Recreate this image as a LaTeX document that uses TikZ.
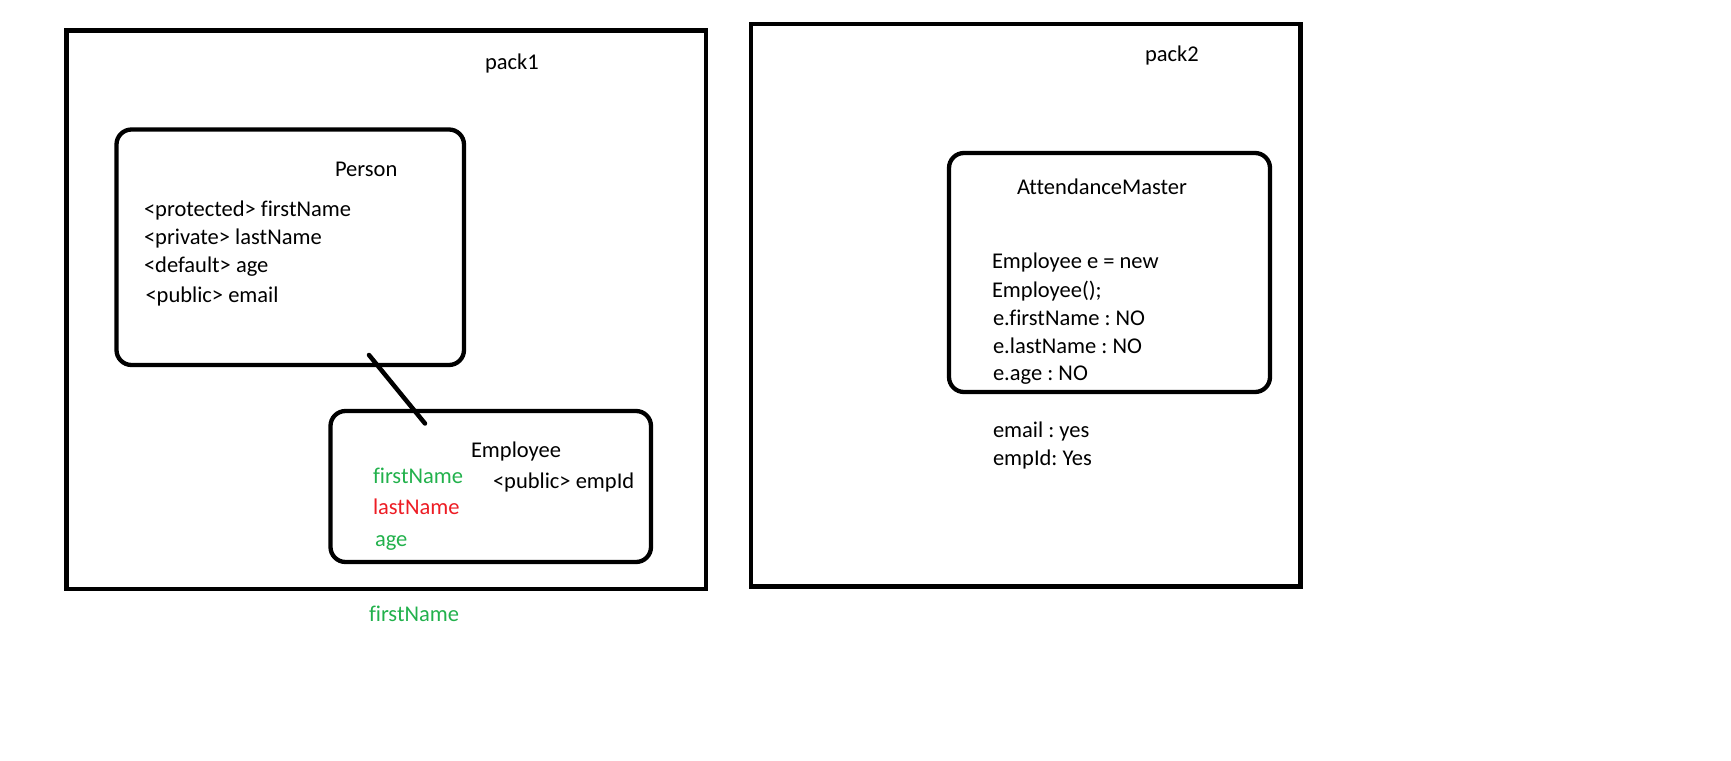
\documentclass[tikz,border=0pt]{standalone}
\usepackage{fontspec}
\setmainfont{Carlito}[RawFeature={-liga,-clig,-dlig}]
\frenchspacing
\definecolor{okgreen}{RGB}{34,177,76}
\definecolor{nored}{RGB}{237,28,36}
\tikzset{
  pack/.style={draw=black, line width=4.7pt, inner sep=0pt, outer sep=0pt},
  cls/.style={draw=black, line width=4.3pt, rounded corners=15pt, inner sep=0pt, outer sep=0pt},
  txt/.style={anchor=base west, inner sep=0pt, outer sep=0pt, font=\fontsize{22.5}{28}\selectfont\frenchspacing, text=black},
  link/.style={draw=black, line width=4.5pt, line cap=round},
}
\begin{document}
\begin{tikzpicture}[x=1pt, y=-1pt]
\useasboundingbox (0,0) rectangle (1731,760);
% packages
\node[pack, minimum width=639.5pt, minimum height=558.5pt] (pack1box) at (386.25,309.75) {};
\node[pack, minimum width=549.5pt, minimum height=562.5pt] (pack2box) at (1025.75,305.25) {};
\node[txt] (pack1) at (485,70) {pack1};
\node[txt] (pack2) at (1145,62) {pack2};
% Person class
\node[cls, minimum width=347.5pt, minimum height=235.5pt] (person) at (290.25,247.25) {};
\node[txt] (personname) at (335,176) {Person};
\node[txt] (p1) at (144,216) {<protected> firstName};
\node[txt] (p2) at (144,244) {<private> lastName};
\node[txt] (p3) at (144,272) {<default> age};
\node[txt] (p4) at (145.5,302) {<public> email};
% Employee class
\node[cls, minimum width=320.5pt, minimum height=151pt] (employee) at (490.75,486.5) {};
\node[txt] (employeename) at (471,457) {Employee};
\node[txt, text=okgreen] (e1) at (373,483) {firstName};
\node[txt, text=nored] (e2) at (373,514) {lastName};
\node[txt, text=okgreen] (e3) at (375,546) {age};
\node[txt] (e4) at (493,488) {<public> empId};
% inheritance link
\coordinate (linkstart) at (369,355);
\coordinate (linkend) at (425,423.5);
\draw[link] (linkstart) -- (linkend);
% below pack1
\node[txt, text=okgreen] (note) at (369,621) {firstName};
% AttendanceMaster class
\node[cls, minimum width=321pt, minimum height=239pt] (attendance) at (1109.5,272.5) {};
\node[txt] (attname) at (1017,194) {AttendanceMaster};
\node[txt] (a1) at (992,268) {Employee e = new};
\node[txt] (a2) at (992,297) {Employee();};
\node[txt] (a3) at (993,325) {e.firstName : NO};
\node[txt] (a4) at (993,353) {e.lastName : NO};
\node[txt] (a5) at (993,380) {e.age : NO};
\node[txt] (a6) at (993,437) {email : yes};
\node[txt] (a7) at (993,465) {empId: Yes};
\end{tikzpicture}
\end{document}
